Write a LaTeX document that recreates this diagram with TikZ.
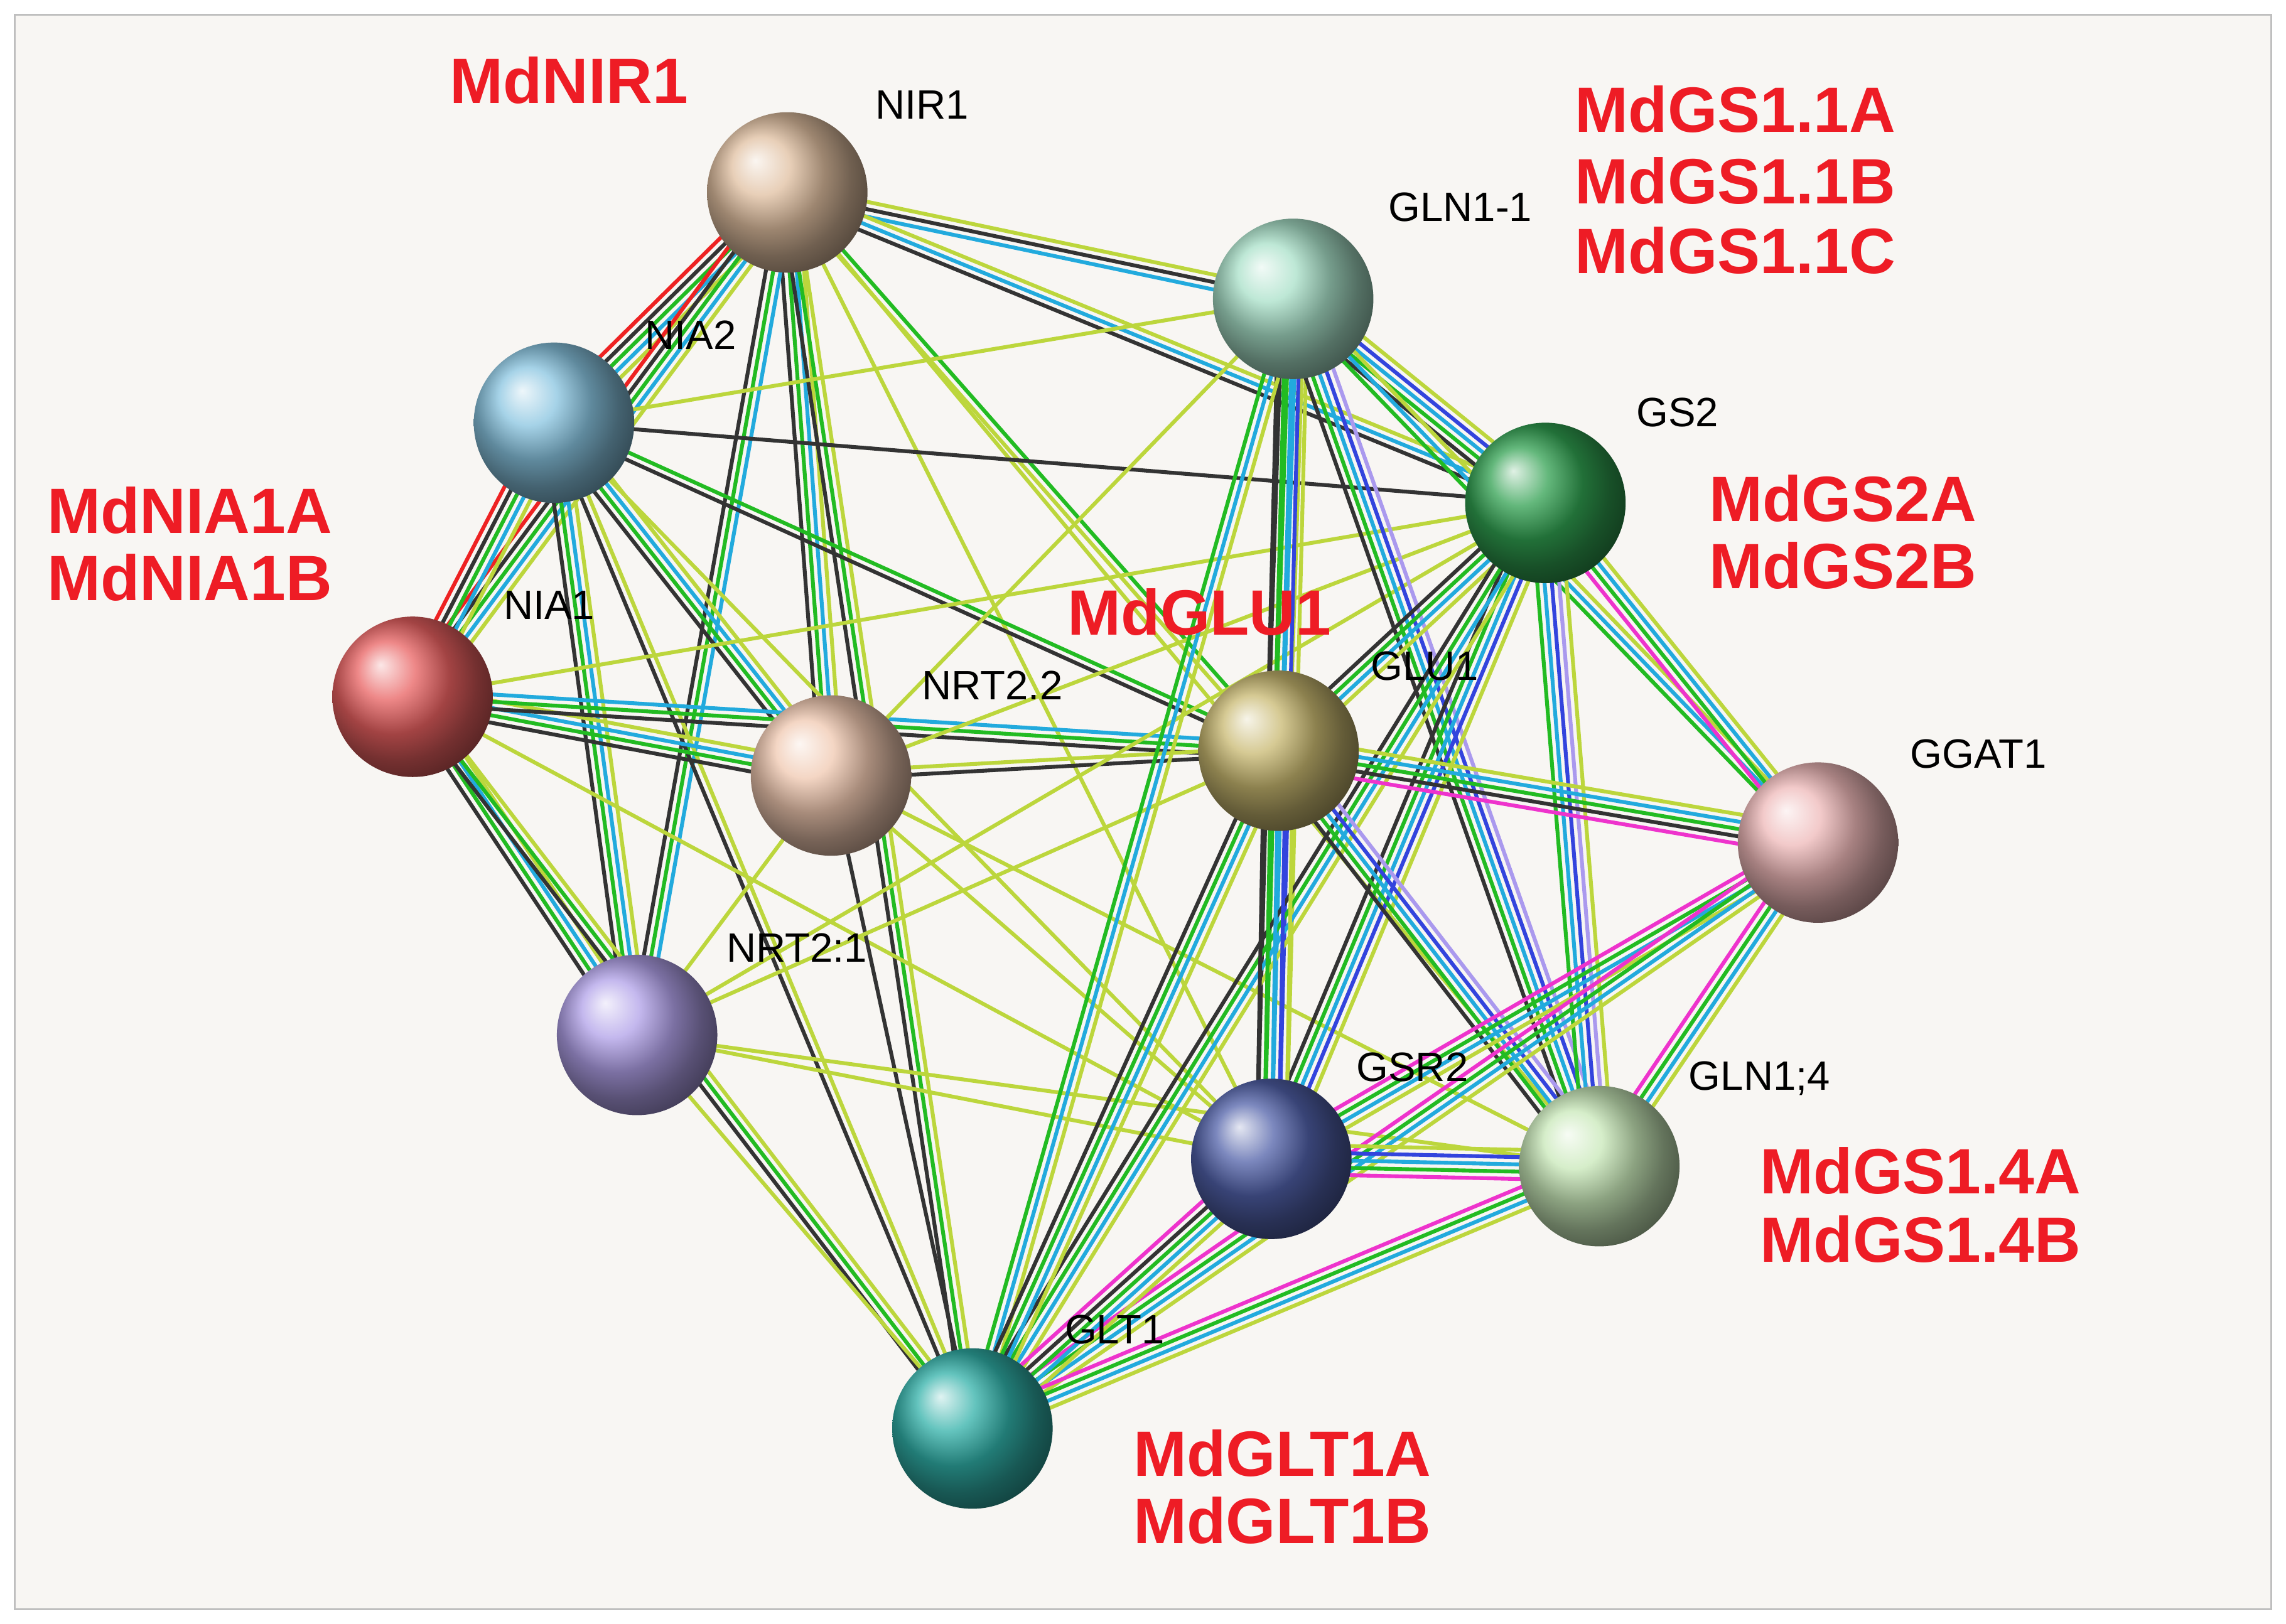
\documentclass[tikz,border=0pt]{standalone}
\usepackage{fontspec}
\setmainfont{Liberation Sans}
\usetikzlibrary{calc}
\definecolor{cY}{HTML}{BCD63C}
\definecolor{cG}{HTML}{22BB22}
\definecolor{cC}{HTML}{22AADD}
\definecolor{cK}{HTML}{333333}
\definecolor{cR}{HTML}{EE2222}
\definecolor{cM}{HTML}{EE33CC}
\definecolor{cB}{HTML}{3344DD}
\definecolor{cL}{HTML}{AA99EE}
\definecolor{bgc}{HTML}{F8F6F3}
\definecolor{lab}{HTML}{EE1C25}
\definecolor{bNIR}{HTML}{E0BFA0}
\definecolor{bGLN11}{HTML}{A8E0C8}
\definecolor{bNIA2}{HTML}{88C4E0}
\definecolor{bGS2}{HTML}{30A050}
\definecolor{bNIA1}{HTML}{E86060}
\definecolor{bNRT22}{HTML}{F0C8B0}
\definecolor{bGLU}{HTML}{C8B870}
\definecolor{bGGAT}{HTML}{EEB8B8}
\definecolor{bNRT21}{HTML}{B0A0E8}
\definecolor{bGSR}{HTML}{5060A8}
\definecolor{bGLN14}{HTML}{C8E8B8}
\definecolor{bGLT}{HTML}{30B0A8}
\newcommand\bund[4]{%
  \foreach \cc [count=\i] in {#4}{%
    \pgfmathsetmacro\off{(\i-(#3+1)/2)*0.05}%
    \draw[color=c\cc,line width=0.75pt] ($(#1)!\off cm!90:(#2)$) -- ($(#2)!\off cm!-90:(#1)$);
  }}
\tikzset{
  ball/.style={circle,minimum size=1.1cm,inner sep=0pt,ball color=#1},
  nlab/.style={font=\fontsize{8}{9}\selectfont,text=black,anchor=west},
  rlab/.style={font=\bfseries\fontsize{12.5}{14}\selectfont,text=lab,anchor=west}
}
\begin{document}
\begin{tikzpicture}[x=0.01cm,y=-0.01cm]
\useasboundingbox (0,0) rectangle (1568,1114);
\fill[white] (0,0) rectangle (1568,1114);
\draw[fill=bgc,draw=gray!50] (10,10) rectangle (1558,1104);
\coordinate (nir) at (540,132);
\coordinate (gln11) at (887,205);
\coordinate (nia2) at (380,290);
\coordinate (gs2) at (1060,345);
\coordinate (nia1) at (283,478);
\coordinate (nrt22) at (570,532);
\coordinate (glu) at (877,515);
\coordinate (ggat) at (1247,578);
\coordinate (nrt21) at (437,710);
\coordinate (gsr) at (872,795);
\coordinate (gln14) at (1097,800);
\coordinate (glt) at (667,980);
% edges
\bund{nir}{nia2}{5}{R,K,G,C,Y}
\bund{nir}{nia1}{5}{R,K,G,C,Y}
\bund{nia2}{nia1}{5}{R,K,G,C,Y}
\bund{nir}{gln11}{3}{C,K,Y}
\bund{nir}{gs2}{3}{K,C,Y}
\bund{nir}{nrt22}{4}{K,G,C,Y}
\bund{nir}{glu}{2}{Y,G}
\bund{nir}{nrt21}{3}{K,G,C}
\bund{nir}{glt}{3}{K,G,Y}
\bund{nir}{gsr}{1}{Y}
\bund{nir}{gln14}{1}{Y}
\bund{nia2}{gs2}{1}{K}
\bund{nia2}{glu}{2}{K,G}
\bund{nia2}{nrt22}{4}{K,G,C,Y}
\bund{nia2}{nrt21}{4}{K,G,C,Y}
\bund{nia2}{glt}{2}{K,Y}
\bund{nia2}{gln11}{1}{Y}
\bund{nia2}{gsr}{1}{Y}
\bund{nia1}{nrt22}{4}{K,G,C,Y}
\bund{nia1}{glu}{3}{K,G,C}
\bund{nia1}{nrt21}{4}{K,G,C,Y}
\bund{nia1}{glt}{3}{K,G,Y}
\bund{nia1}{gs2}{1}{Y}
\bund{nia1}{gsr}{1}{Y}
\bund{nrt22}{glu}{2}{K,Y}
\bund{nrt22}{glt}{1}{K}
\bund{nrt22}{nrt21}{1}{Y}
\bund{nrt22}{gln11}{1}{Y}
\bund{nrt22}{gs2}{1}{Y}
\bund{nrt22}{gsr}{1}{Y}
\bund{nrt22}{gln14}{1}{Y}
\bund{nrt21}{glu}{1}{Y}
\bund{nrt21}{gsr}{1}{Y}
\bund{nrt21}{gln14}{1}{Y}
\bund{nrt21}{glt}{1}{Y}
\bund{nrt21}{gs2}{1}{Y}
\bund{gln11}{gs2}{5}{K,G,C,B,Y}
\bund{gln11}{glu}{4}{K,G,C,Y}
\bund{gln11}{ggat}{3}{G,C,Y}
\bund{gln11}{gsr}{5}{K,G,C,B,Y}
\bund{gln11}{gln14}{5}{K,G,C,B,L}
\bund{gln11}{glt}{3}{G,C,Y}
\bund{gs2}{glu}{4}{K,G,C,Y}
\bund{gs2}{ggat}{4}{M,G,C,Y}
\bund{gs2}{gsr}{5}{K,G,C,B,Y}
\bund{gs2}{gln14}{5}{G,C,B,L,Y}
\bund{gs2}{glt}{4}{K,G,C,Y}
\bund{glu}{ggat}{5}{M,K,G,C,Y}
\bund{glu}{gsr}{5}{K,G,C,B,Y}
\bund{glu}{gln14}{5}{K,G,C,B,L}
\bund{glu}{glt}{4}{K,G,C,Y}
\bund{ggat}{gsr}{4}{M,G,C,Y}
\bund{ggat}{gln14}{4}{M,G,C,Y}
\bund{ggat}{glt}{4}{M,G,C,Y}
\bund{gsr}{gln14}{5}{M,G,C,B,Y}
\bund{gsr}{glt}{5}{M,K,G,C,Y}
\bund{gln14}{glt}{4}{M,G,C,Y}
% spheres
\node[ball=bNIR] (NIR1) at (nir) {};
\node[ball=bGLN11] (GLN11) at (gln11) {};
\node[ball=bNIA2] (NIA2) at (nia2) {};
\node[ball=bGS2] (GS2) at (gs2) {};
\node[ball=bNIA1] (NIA1) at (nia1) {};
\node[ball=bNRT22] (NRT22) at (nrt22) {};
\node[ball=bGLU] (GLU1) at (glu) {};
\node[ball=bGGAT] (GGAT1) at (ggat) {};
\node[ball=bNRT21] (NRT21) at (nrt21) {};
\node[ball=bGSR] (GSR2) at (gsr) {};
\node[ball=bGLN14] (GLN14) at (gln14) {};
\node[ball=bGLT] (GLT1) at (glt) {};
% labels
\node[nlab] at (588,72) {NIR1};
\node[nlab] at (940,142) {GLN1-1};
\node[nlab] at (430,230) {NIA2};
\node[nlab] at (1110,283) {GS2};
\node[nlab] at (333,415) {NIA1};
\node[nlab] at (620,470) {NRT2.2};
\node[nlab] at (928,457) {GLU1};
\node[nlab] at (1298,517) {GGAT1};
\node[nlab] at (486,650) {NRT2:1};
\node[nlab] at (918,732) {GSR2};
\node[nlab] at (1146,740) {GLN1;4};
\node[nlab] at (718,912) {GLT1};
\node[rlab] at (296,55) {MdNIR1};
\node[rlab] at (1068,75) {MdGS1.1A};
\node[rlab] at (1068,124) {MdGS1.1B};
\node[rlab] at (1068,172) {MdGS1.1C};
\node[rlab] at (20,350) {MdNIA1A};
\node[rlab] at (20,396) {MdNIA1B};
\node[rlab] at (720,420) {MdGLU1};
\node[rlab] at (1160,342) {MdGS2A};
\node[rlab] at (1160,388) {MdGS2B};
\node[rlab] at (1195,803) {MdGS1.4A};
\node[rlab] at (1195,850) {MdGS1.4B};
\node[rlab] at (765,997) {MdGLT1A};
\node[rlab] at (765,1043) {MdGLT1B};
\end{tikzpicture}
\end{document}
